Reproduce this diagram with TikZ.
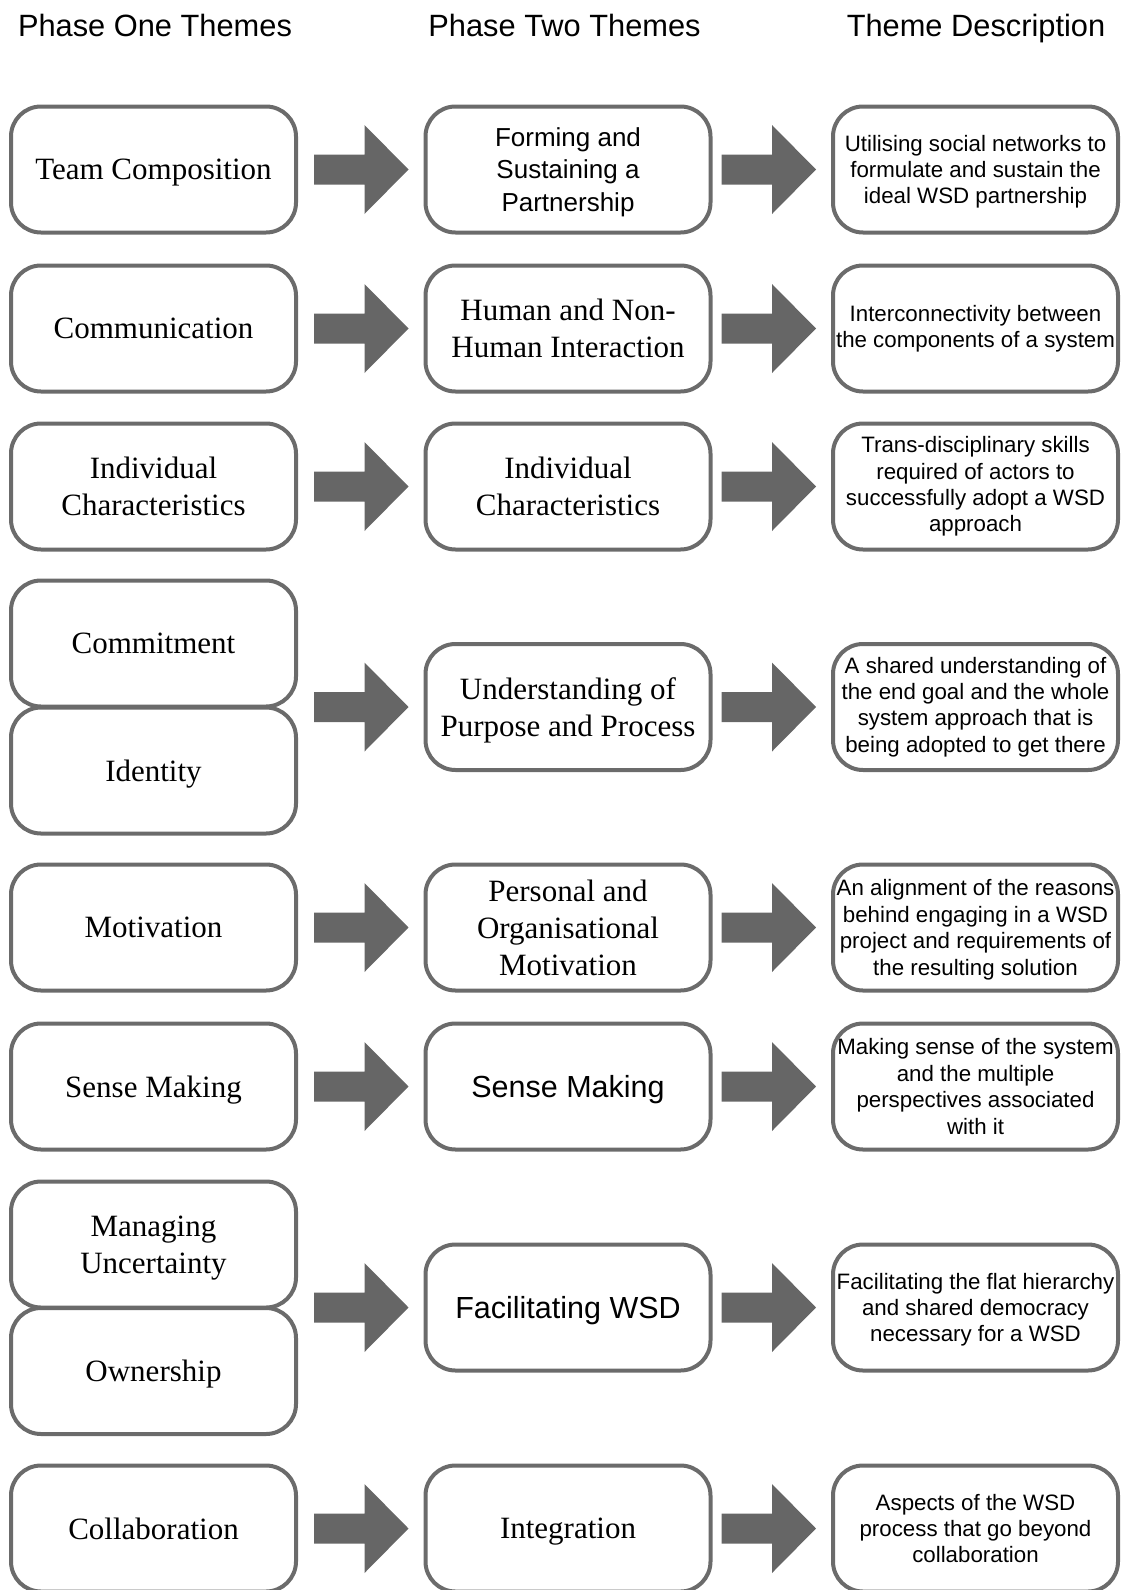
\documentclass[tikz,border=0pt]{standalone}
\usepackage{fontspec}
\setmainfont{Liberation Serif}
\setsansfont{Liberation Sans}
\usetikzlibrary{calc}

\definecolor{edgegray}{HTML}{6B6B6B}
\definecolor{arrowgray}{HTML}{666666}

\tikzset{
  theme/.style={draw=edgegray, line width=4pt, fill=white, rounded corners=30pt,
    minimum width=285pt, minimum height=126pt, inner sep=0pt, align=center},
  serifbox/.style={theme, font=\fontsize{31}{37}\selectfont},
  sansbox/.style={theme, font=\sffamily\fontsize{26}{32.5}\selectfont},
  bigsansbox/.style={theme, font=\sffamily\fontsize{30.5}{36}\selectfont},
  descbox/.style={theme, font=\sffamily\fontsize{22.3}{26.4}\selectfont},
  nodepth/.style={text depth=0pt},
  header/.style={font=\sffamily\fontsize{30.8}{36}\selectfont, anchor=base, inner sep=0pt},
}

% block arrow from node #1 to node #2; #3 = gap after the source box
\newcommand\themearrow[3]{%
  \fill[arrowgray] let \p1=(#1.east), \p2=(#2.west) in
    (\x1+#3,\y2+15pt) -- (\x2-59pt,\y2+15pt) -- (\x2-59pt,\y2+44.5pt) --
    (\x2-15pt,\y2) -- (\x2-59pt,\y2-44.5pt) -- (\x2-59pt,\y2-15pt) --
    (\x1+#3,\y2-15pt) -- cycle;}

\begin{document}
\begin{tikzpicture}[x=1pt,y=-1pt]
\useasboundingbox (0,0) rectangle (1125,1590);

% column headings
\node[header] (h1) at (155,36) {Phase One Themes};
\node[header] (h2) at (564.5,36) {Phase Two Themes};
\node[header] (h3) at (976,36) {Theme Description};

% phase one themes
\node[serifbox,nodepth] (a1) at (153.5,169.5) {Team Composition};
\node[serifbox] (a2) at (153.5,328.5) {Communication};
\node[serifbox] (a3) at (153.5,486.5) {Individual\\Characteristics};
\node[serifbox] (a4) at (153.5,643.5) {Commitment};
\node[serifbox,nodepth] (a4b) at (153.5,770.5) {Identity};
\node[serifbox] (a5) at (153.5,927.5) {Motivation};
\node[serifbox,nodepth] (a6) at (153.5,1086.5) {Sense Making};
\node[serifbox,nodepth] (a7) at (153.5,1244.5) {Managing\\Uncertainty};
\node[serifbox,nodepth] (a7b) at (153.5,1371) {Ownership};
\node[serifbox] (a8) at (153.5,1528.5) {Collaboration};

% phase two themes
\node[sansbox,nodepth] (b1) at (568,169.5) {Forming and\\Sustaining a\\Partnership};
\node[serifbox] (b2) at (568,328.5) {Human and Non-\\Human Interaction};
\node[serifbox] (b3) at (568,486.5) {Individual\\Characteristics};
\node[serifbox,nodepth] (b4) at (568,707) {Understanding of\\Purpose and Process};
\node[serifbox] (b5) at (568,927.5) {Personal and\\Organisational\\Motivation};
\node[bigsansbox,nodepth] (b6) at (568,1086.5) {Sense Making};
\node[bigsansbox,nodepth] (b7) at (568,1307.5) {Facilitating WSD};
\node[serifbox,nodepth] (b8) at (568,1528.5) {Integration};

% theme descriptions
\node[descbox,nodepth] (c1) at (975.5,169.5) {Utilising social networks to\\formulate and sustain the\\ideal WSD partnership};
\node[descbox] (c2) at (975.5,328.5) {Interconnectivity between\\the components of a system};
\node[descbox] (c3) at (975.5,486.5) {Trans-disciplinary skills\\required of actors to\\successfully adopt a WSD\\approach};
\node[descbox] (c4) at (975.5,707) {A shared understanding of\\the end goal and the whole\\system approach that is\\being adopted to get there};
\node[descbox,nodepth] (c5) at (975.5,927.5) {An alignment of the reasons\\behind engaging in a WSD\\project and requirements of\\the resulting solution};
\node[descbox] (c6) at (975.5,1086.5) {Making sense of the system\\and the multiple\\perspectives associated\\with it};
\node[descbox,nodepth] (c7) at (975.5,1307.5) {Facilitating the flat hierarchy\\and shared democracy\\necessary for a WSD};
\node[descbox] (c8) at (975.5,1528.5) {Aspects of the WSD\\process that go beyond\\collaboration};

% arrows between the columns
\foreach \s/\t in {a1/b1,a2/b2,a3/b3,a4/b4,a5/b5,a6/b6,a7/b7,a8/b8}
  {\themearrow{\s}{\t}{16pt}}
\foreach \s/\t in {b1/c1,b2/c2,b3/c3,b4/c4,b5/c5,b6/c6,b7/c7,b8/c8}
  {\themearrow{\s}{\t}{9pt}}
\end{tikzpicture}
\end{document}
